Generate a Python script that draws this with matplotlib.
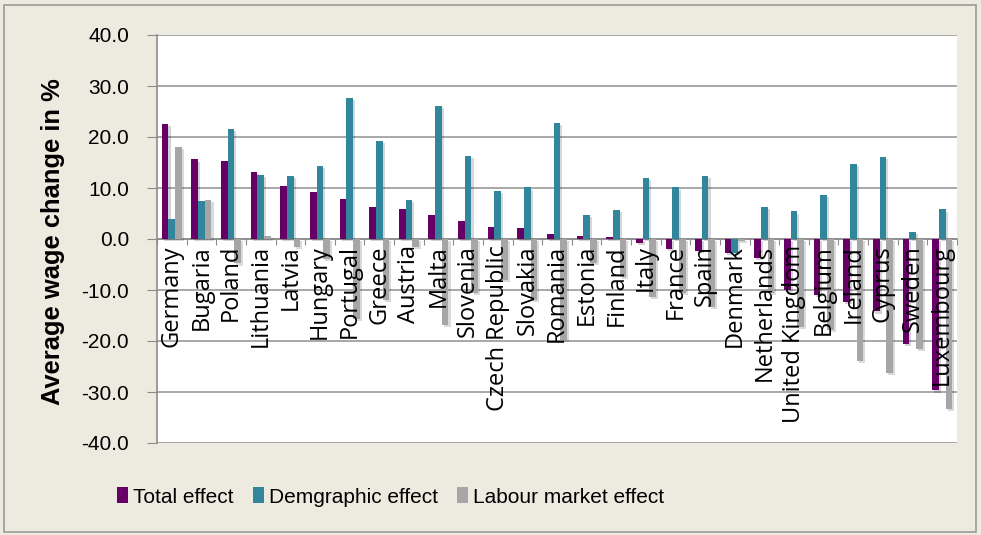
import numpy as np
import matplotlib.pyplot as plt
import matplotlib.patheffects as pe
from matplotlib.patches import Rectangle

# dados por pais (variacao media do salario, %)
paises = ["Germany", "Bugaria", "Poland", "Lithuania", "Latvia", "Hungary",
          "Portugal", "Greece", "Austria", "Malta", "Slovenia", "Czech Republic",
          "Slovakia", "Romania", "Estonia", "Finland", "Italy", "France", "Spain",
          "Denmark", "Netherlands", "United Kingdom", "Belgium", "Ireland",
          "Cyprus", "Sweden", "Luxembourg"]
efeito_total = [22.5, 15.6, 15.3, 13.1, 10.4, 9.2, 7.8, 6.3, 5.9, 4.7, 3.5, 2.4,
                2.2, 1.0, 0.6, 0.4, -0.7, -2.0, -2.3, -2.8, -3.7, -10.0, -11.0,
                -12.3, -14.2, -20.6, -29.7]
efeito_demografico = [3.9, 7.4, 21.5, 12.5, 12.3, 14.4, 27.6, 19.3, 7.6, 26.1,
                      16.3, 9.4, 10.1, 22.7, 4.7, 5.7, 11.9, 10.1, 12.4, -2.8,
                      6.2, 5.4, 8.6, 14.8, 16.0, 1.3, 5.8]
efeito_mercado = [18.0, 7.6, -4.8, 0.6, -1.5, -4.0, -15.6, -12.0, -1.5, -16.9,
                  -10.6, -8.0, -12.0, -19.8, -4.7, -7.4, -11.3, -10.6, -13.3,
                  -0.3, -10.6, -17.2, -17.8, -23.9, -26.2, -21.6, -33.4]
legendas = ["Total effect", "Demgraphic effect", "Labour market effect"]
cores = ["#660066", "#31869B", "#A6A6A6"]

fundo = "#EDEBE0"
fig = plt.figure(figsize=(9.81, 5.35), dpi=100, facecolor=fundo)
fig.patches.append(Rectangle((0.004, 0.006), 0.991, 0.985, transform=fig.transFigure,
                             fill=False, edgecolor="#9a9a9a", lw=1.2))
ax = fig.add_axes([157 / 981, 1 - 443 / 535, 800 / 981, 408 / 535])
ax.set_facecolor("white")

x = np.arange(len(paises))
larg = 0.225
sombra = [pe.SimplePatchShadow(offset=(1.5, -1.5), alpha=0.18), pe.Normal()]
series = [efeito_total, efeito_demografico, efeito_mercado]
for i, (vals, cor, nome) in enumerate(zip(series, cores, legendas)):
    b = ax.bar(x + (i - 1) * larg, vals, larg, color=cor, label=nome, zorder=3)
    for r in b:
        r.set_path_effects(sombra)

ax.set_ylim(-40, 40)
ax.set_xlim(-0.5, len(paises) - 0.5)
ax.set_yticks(np.arange(-40, 41, 10))
ax.set_yticklabels(["%.1f" % v for v in np.arange(-40, 41, 10)],
                   fontsize=15, family="Liberation Sans")
ax.yaxis.grid(True, color="#9a9a9a", lw=1.2, zorder=0)
ax.tick_params(axis="y", length=7, color="#8c8c8c", pad=13)

# eixo x no zero com marcas entre os paises
for s in ["top", "right"]:
    ax.spines[s].set_visible(False)
ax.spines["left"].set_color("#8c8c8c")
ax.spines["left"].set_linewidth(1.2)
ax.spines["bottom"].set_position(("data", 0))
ax.spines["bottom"].set_color("#8c8c8c")
ax.spines["bottom"].set_linewidth(1.2)
ax.set_xticks(np.arange(-0.5, len(paises), 1))
ax.set_xticklabels([])
ax.tick_params(axis="x", length=4, color="#8c8c8c", direction="out")

for xi, nome in zip(x, paises):
    ax.text(xi, -1.2, nome, rotation=90, ha="center", va="top", fontsize=17,
            family="Open Sans", zorder=5)

fig.text(53 / 981, 1 - 242 / 535, "Average wage change in %", rotation=90,
         ha="center", va="center", fontsize=18.4, fontweight="bold",
         family="Liberation Sans")

h, l = ax.get_legend_handles_labels()
leg = fig.legend(h, l, loc="center left", bbox_to_anchor=(117 / 981, 1 - 497 / 535),
                 ncol=3, frameon=False, borderpad=0, borderaxespad=0,
                 prop={"family": "Liberation Sans", "size": 15},
                 handlelength=0.53, handleheight=0.77, handletextpad=0.25,
                 columnspacing=0.9)
for p in leg.get_patches():
    p.set_path_effects([])

fig.savefig("out.png", dpi=100, facecolor=fundo)
